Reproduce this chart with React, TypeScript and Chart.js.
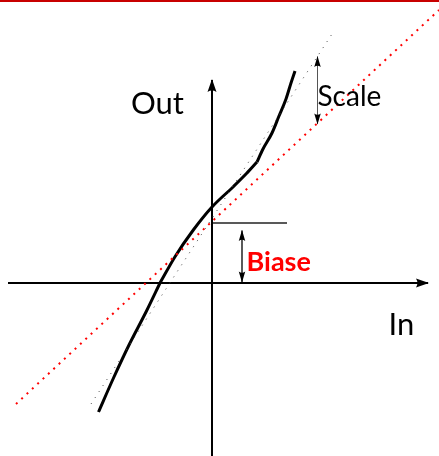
import React, { useEffect, useRef } from 'react';
import { Chart, registerables } from 'chart.js';

Chart.register(...registerables);

type P = [number, number];

// Black response curve (axis units, origin at the axes' crossing)
const curveLower: P[] = [[-11.35, -12.9], [-9.85, -9.5], [-8.3, -6.2], [-6.55, -2.8], [-5.2, 0]];
const curveMiddle: P[] = [[-5.2, 0], [-3.7, 2.63], [-1.87, 5.3], [0, 7.6], [2.13, 9.63], [3.47, 10.97], [4.5, 12.1]];
const curveUpper: P[] = [[4.5, 12.1], [5.1, 13.4], [6.0, 15.0], [6.7, 16.7], [7.4, 18.4], [7.9, 20.0], [8.3, 21.2]];

// Straight guide lines
const scaledLine: P[] = [[-12.1, -12.1], [12.0, 24.9]];
const biasedLine: P[] = [[-19.6, -12.1], [22.7, 27.3]];

// Axes and annotations
const inAxis: P[] = [[-20.4, 0], [21.6, 0]];
const outAxis: P[] = [[0, -17.6], [0, 20.3]];
const biasLevel: P[] = [[0, 6.0], [7.5, 6.0]];
const biasArrow: P[] = [[3.0, 0.1], [3.0, 5.25]];
const scaleArrow: P[] = [[10.55, 15.9], [10.55, 22.65]];

const labelTexts = ['Out', 'In', 'Scale', 'Biase'];
const labelAnchors: P[] = [[-8.1, 16.95], [17.65, -5.2], [10.55, 17.7], [3.45, 1.2]];

const toXY = (pts: P[]) => pts.map(([x, y]) => ({ x, y }));

const labelStyles = [
  { font: '31px Lato', color: '#000' },
  { font: '31px Lato', color: '#000' },
  { font: '28px Lato', color: '#000' },
  { font: 'bold 27px Lato', color: '#ff0000' },
];

const arrowPlugin = {
  id: 'arrowHeads',
  afterDatasetsDraw(chart: any) {
    const ctx = chart.ctx;
    chart.data.datasets.forEach((ds: any, i: number) => {
      if (!ds.arrow) return;
      const pts = chart.getDatasetMeta(i).data;
      const n = pts.length;
      const head = (tip: any, from: any) => {
        const ang = Math.atan2(tip.y - from.y, tip.x - from.x);
        const L = ds.arrow.len;
        const W = ds.arrow.width / 2;
        const ext = ds.arrow.ext ?? 1;
        ctx.save();
        ctx.translate(tip.x, tip.y);
        ctx.rotate(ang);
        ctx.beginPath();
        ctx.moveTo(ext, 0);
        ctx.lineTo(ext - L, -W);
        ctx.quadraticCurveTo(ext - L * 0.78, 0, ext - L, W);
        ctx.closePath();
        ctx.fillStyle = '#000';
        ctx.fill();
        ctx.restore();
      };
      if (ds.arrow.end) head(pts[n - 1], pts[n - 2]);
      if (ds.arrow.start) head(pts[0], pts[1]);
    });
  },
  afterDraw(chart: any) {
    const ctx = chart.ctx;
    const xs = chart.scales.x;
    const ys = chart.scales.y;
    ctx.save();
    ctx.textAlign = 'left';
    ctx.textBaseline = 'alphabetic';
    labelTexts.forEach((t, i) => {
      const [x, y] = labelAnchors[i];
      ctx.font = labelStyles[i].font;
      ctx.fillStyle = labelStyles[i].color;
      ctx.fillText(t, xs.getPixelForValue(x), ys.getPixelForValue(y));
    });
    ctx.fillStyle = '#c80000';
    ctx.fillRect(0, 0, chart.width, 2);
    ctx.restore();
  },
};

export default function App() {
  const ref = useRef<HTMLCanvasElement | null>(null);
  useEffect(() => {
    if (!ref.current) return;
    const line = (data: P[], extra: any) => ({
      data: toXY(data),
      showLine: true,
      pointRadius: 0,
      pointHoverRadius: 0,
      fill: false,
      borderColor: '#000',
      borderWidth: 1,
      ...extra,
    });
    const chart = new Chart(ref.current, {
      type: 'scatter',
      data: {
        datasets: [
          line(biasedLine, { borderColor: '#ff0000', borderWidth: 2, borderDash: [2, 5.3] }),
          line(scaledLine, { borderColor: '#444', borderWidth: 1, borderDash: [1, 6.2] }),
          line(inAxis, { borderWidth: 2, arrow: { end: true, len: 13, width: 9, ext: 1 } }),
          line(outAxis, { borderWidth: 2, arrow: { end: true, len: 13, width: 9, ext: 1 } }),
          line(biasLevel, { borderWidth: 1.3, borderColor: '#222' }),
          line(biasArrow, { borderWidth: 1.3, arrow: { start: true, end: true, len: 11, width: 6.5, ext: 0.5 } }),
          line(scaleArrow, { borderWidth: 1, borderColor: '#555', arrow: { start: true, end: true, len: 11, width: 6.5, ext: 0.5 } }),
          line(curveLower, { borderWidth: 3, cubicInterpolationMode: 'monotone' }),
          line(curveMiddle, { borderWidth: 3, cubicInterpolationMode: 'monotone' }),
          line(curveUpper, { borderWidth: 3, cubicInterpolationMode: 'monotone' }),
        ] as any,
      },
      options: {
        animation: false,
        responsive: true,
        maintainAspectRatio: false,
        events: [],
        layout: { padding: 0 },
        plugins: { legend: { display: false }, tooltip: { enabled: false } },
        scales: {
          x: { type: 'linear', min: -21.2, max: 22.7, display: false },
          y: { type: 'linear', min: -17.3, max: 28.3, display: false },
        },
      },
      plugins: [arrowPlugin],
    });
    return () => chart.destroy();
  }, []);
  return (
    <div style={{ position: 'fixed', left: 0, top: 0, width: 439, height: 456, background: '#fff' }}>
      <canvas ref={ref} />
    </div>
  );
}
